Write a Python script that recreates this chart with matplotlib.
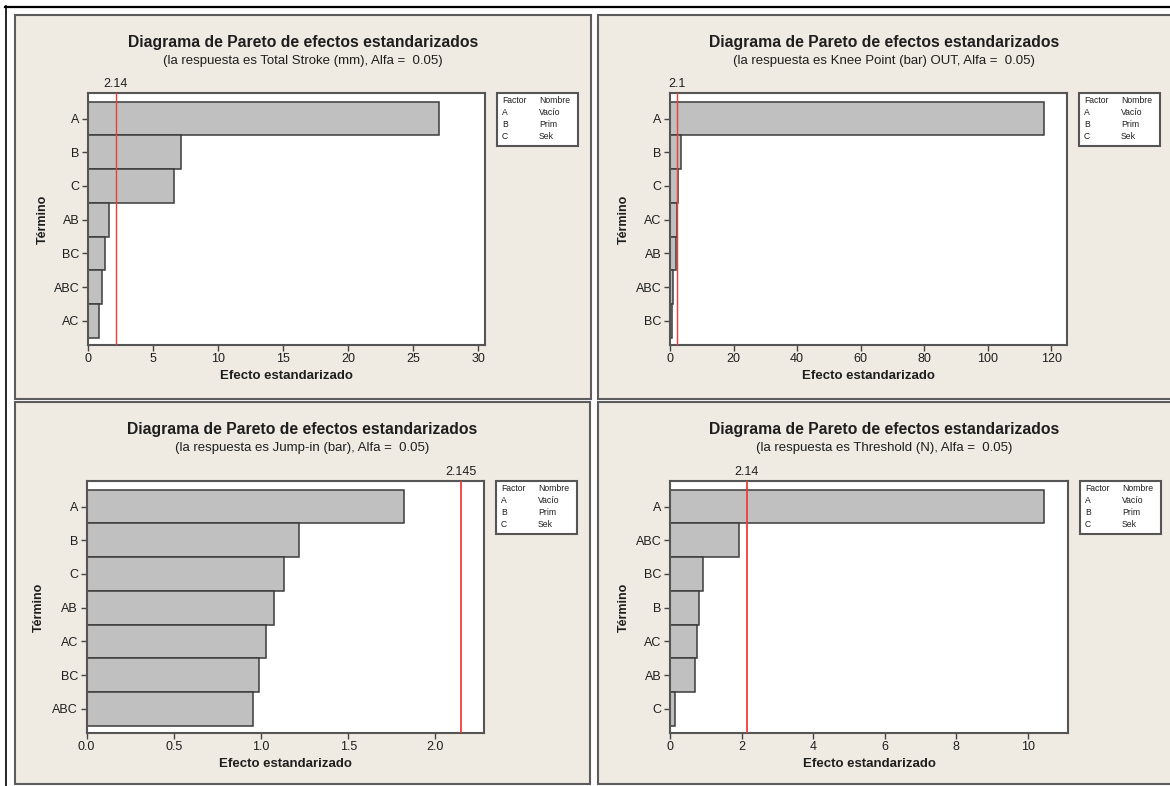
import numpy as np
import matplotlib
matplotlib.use('Agg')
import matplotlib.pyplot as plt
import matplotlib.transforms as mtransforms
from matplotlib.patches import Rectangle
from matplotlib.lines import Line2D

plt.rcParams['font.family'] = ['Liberation Sans', 'DejaVu Sans']

W, H = 1170, 786  # output size in pixels

# values (standardized effects)
terms_stroke = ['A', 'B', 'C', 'AB', 'BC', 'ABC', 'AC']
effect_stroke = [27.0, 7.15, 6.6, 1.6, 1.27, 1.09, 0.88]
crit_stroke = 2.14
ticks_stroke = [0, 5, 10, 15, 20, 25, 30]

terms_knee = ['A', 'B', 'C', 'AC', 'AB', 'ABC', 'BC']
effect_knee = [117.9, 3.4, 2.6, 2.05, 1.95, 0.8, 0.6]
crit_knee = 2.1
ticks_knee = [0, 20, 40, 60, 80, 100, 120]

terms_jump = ['A', 'B', 'C', 'AB', 'AC', 'BC', 'ABC']
effect_jump = [1.818, 1.219, 1.132, 1.077, 1.031, 0.987, 0.954]
crit_jump = 2.145
ticks_jump = [0.0, 0.5, 1.0, 1.5, 2.0]

terms_thr = ['A', 'ABC', 'BC', 'B', 'AC', 'AB', 'C']
effect_thr = [10.46, 1.93, 0.925, 0.82, 0.75, 0.71, 0.13]
crit_thr = 2.14
ticks_thr = [0, 2, 4, 6, 8, 10]

responses = ['Total Stroke (mm)', 'Knee Point (bar) OUT', 'Jump-in (bar)', 'Threshold (N)']
crit_labels = ['2.14', '2.1', '2.145', '2.14']
tick_labels_jump = ['0.0', '0.5', '1.0', '1.5', '2.0']
factor_codes = ['A', 'B', 'C']
factor_names = ['Vacío', 'Prim', 'Sek']

BEIGE = '#efebe2'
BAR = '#c0c0c0'
RED = '#f03c3c'
TXT = '#1e1e1e'


def fx(x):
    return x / W


def fy(y):
    return 1 - y / H


def main():
    fig = plt.figure(figsize=(W / 100, H / 100), dpi=100)
    fig.patch.set_facecolor('white')

    # black frame lines (top / left) of the screenshot
    fig.add_artist(Line2D([fx(5), fx(1170)], [fy(6.5), fy(6.5)], transform=fig.transFigure,
                          color='black', lw=1.6, zorder=-2))
    fig.add_artist(Line2D([fx(5.5), fx(5.5)], [fy(6), fy(786)], transform=fig.transFigure,
                          color='black', lw=1.2, zorder=-2))

    # panel boxes  (x0, y0, x1, y1) in pixels
    panels = [(15, 15, 591, 399), (598, 15, 1172, 399), (15, 402, 590, 784), (598, 402, 1172, 784)]
    # axes boxes (left, top, right, bottom) in pixels
    boxes = [(88, 93, 485, 345), (670, 93, 1067, 345), (86.5, 481, 484, 733), (670, 481, 1068, 733)]
    xmaxs = [30.5, 125, 2.278, 11.12]
    ylab_x = [43, 624, 39, 624]

    terms = [terms_stroke, terms_knee, terms_jump, terms_thr]
    effects = [effect_stroke, effect_knee, effect_jump, effect_thr]
    crits = [crit_stroke, crit_knee, crit_jump, crit_thr]
    ticks = [ticks_stroke, ticks_knee, ticks_jump, ticks_thr]

    for i in range(4):
        x0, y0, x1, y1 = panels[i]
        fig.add_artist(Rectangle((fx(x0), fy(y1)), (x1 - x0) / W, (y1 - y0) / H,
                                 transform=fig.transFigure, facecolor=BEIGE,
                                 edgecolor='#5c5c5c', lw=1.5, zorder=-1))
        cx = (x0 + min(x1, 1170)) / 2

        l, t, r, b = boxes[i]
        ax = fig.add_axes([fx(l), fy(b), (r - l) / W, (b - t) / H])
        n = len(terms[i])
        ax.barh(np.arange(n), effects[i], height=1.0, color=BAR, edgecolor='#3c3c3c', lw=1.1, zorder=2)
        ax.set_ylim(n - 0.5 + 0.22, -0.5 - 0.26)
        ax.set_yticks(np.arange(n))
        ax.set_yticklabels(terms[i])
        ax.set_xlim(0, xmaxs[i])
        ax.set_xticks(ticks[i])
        if i == 2:
            ax.set_xticklabels(tick_labels_jump)
        ax.axvline(crits[i], color=RED, lw=1.3 if i >= 2 else 1.0, zorder=3)
        trans = mtransforms.blended_transform_factory(ax.transData, ax.transAxes)
        ax.text(crits[i], 1.012, crit_labels[i], transform=trans, ha='center', va='bottom',
                fontsize=9, color=TXT)
        for sp in ax.spines.values():
            sp.set_color('#555555')
            sp.set_linewidth(1.5)
        ax.tick_params(length=4, width=1, color='#444444', labelsize=9, labelcolor=TXT, pad=2)

        # titles
        fig.text(fx(cx), fy(y0 + 28), 'Diagrama de Pareto de efectos estandarizados',
                 ha='center', va='center', fontsize=11.3, fontweight='bold', color=TXT)
        fig.text(fx(cx), fy(y0 + 46), '(la respuesta es %s, Alfa =  0.05)' % responses[i],
                 ha='center', va='center', fontsize=9.5, color=TXT)
        fig.text(fx((l + r) / 2), fy(b + 31), 'Efecto estandarizado',
                 ha='center', va='center', fontsize=9.5, fontweight='bold', color=TXT)
        fig.text(fx(ylab_x[i]), fy((t + b) / 2), 'Término', rotation=90,
                 ha='center', va='center', fontsize=9, fontweight='bold', color=TXT)

        # factor legend box
        lx0, ly0 = r + 12, t
        fig.add_artist(Rectangle((fx(lx0), fy(ly0 + 53)), 81 / W, 53 / H, transform=fig.transFigure,
                                 facecolor='white', edgecolor='#555555', lw=1.5, zorder=1))
        fig.text(fx(lx0 + 5), fy(ly0 + 7.5), 'Factor', fontsize=6.2, va='center', color=TXT)
        fig.text(fx(lx0 + 42), fy(ly0 + 7.5), 'Nombre', fontsize=6.2, va='center', color=TXT)
        for k in range(3):
            fig.text(fx(lx0 + 5), fy(ly0 + 19.5 + 12.2 * k), factor_codes[k], fontsize=6.2,
                     va='center', color=TXT)
            fig.text(fx(lx0 + 42), fy(ly0 + 19.5 + 12.2 * k), factor_names[k], fontsize=6.2,
                     va='center', color=TXT)

    fig.savefig('out.png', dpi=100)


if __name__ == '__main__':
    main()
